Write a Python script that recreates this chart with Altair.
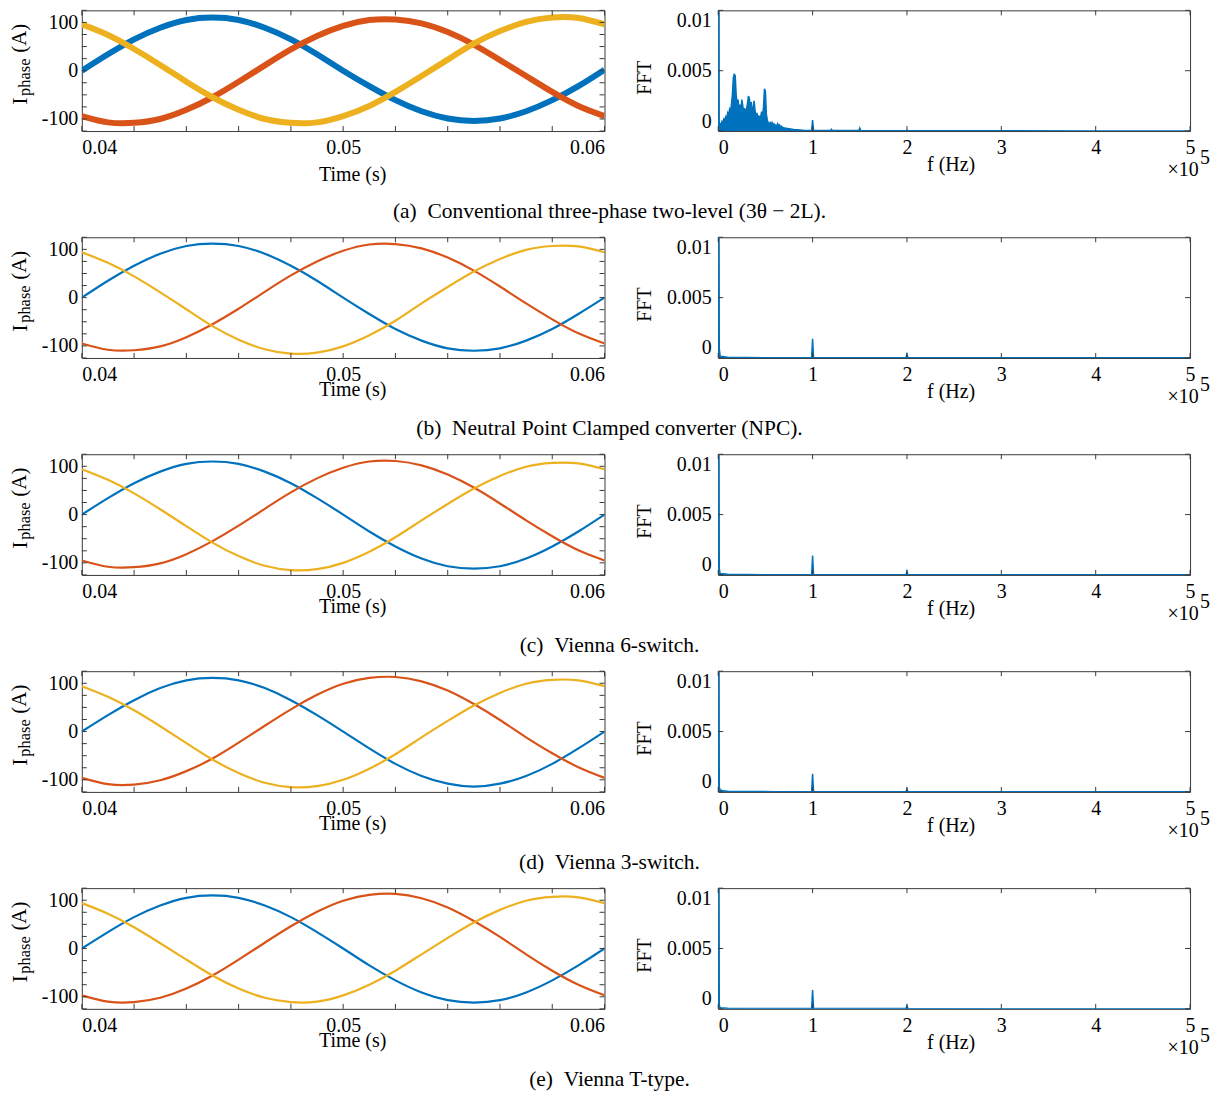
import altair as alt
import pandas as pd

FONT = "Liberation Serif"
BLUE, ORANGE, YELLOW = "#0072BD", "#D95319", "#EDB120"
FRAME = "#3a3a3a"

# ---------------- data ----------------
time_s = [0.040, 0.041, 0.042, 0.043, 0.044, 0.045, 0.046, 0.047, 0.048, 0.049, 0.050,
          0.051, 0.052, 0.053, 0.054, 0.055, 0.056, 0.057, 0.058, 0.059, 0.060]

# phase currents (A), one list per phase per converter
ia_a = [0, 34, 65, 89, 105, 110, 105, 89, 65, 34, 0, -32, -61, -84, -99, -104, -99, -84, -61, -32, 2]
ib_a = [-94, -107, -108, -100, -81, -55, -23, 11, 44, 72, 93, 105, 106, 98, 80, 54, 22, -11, -44, -73, -94]
ic_a = [96, 74, 45, 12, -23, -55, -81, -100, -108, -107, -94, -73, -44, -11, 23, 56, 82, 101, 110, 109, 96]

ia_b = [0, 35, 66, 91, 107, 112, 107, 91, 66, 35, 0, -34, -65, -89, -105, -110, -105, -89, -65, -34, 0]
ib_b = [-95, -108, -109, -101, -82, -55, -23, 12, 46, 75, 97, 110, 111, 102, 83, 56, 23, -12, -45, -74, -95]
ic_b = [94, 72, 44, 11, -24, -59, -87, -107, -116, -114, -101, -78, -48, -12, 22, 54, 80, 99, 107, 106, 94]

ia_c = [0, 34, 65, 89, 105, 110, 105, 89, 65, 34, 0, -35, -66, -91, -107, -112, -107, -91, -66, -35, 0]
ib_c = [-95, -108, -109, -101, -82, -55, -23, 12, 46, 75, 97, 110, 111, 102, 83, 56, 23, -12, -45, -74, -95]
ic_c = [94, 72, 44, 11, -24, -58, -86, -106, -115, -113, -100, -77, -47, -12, 22, 54, 80, 99, 107, 106, 94]

ia_d = [0, 34, 65, 90, 106, 111, 106, 90, 65, 34, 0, -35, -67, -92, -108, -114, -108, -92, -67, -35, 0]
ib_d = [-96, -109, -110, -101, -82, -56, -23, 12, 46, 76, 99, 111, 113, 104, 85, 57, 24, -12, -45, -74, -96]
ic_d = [94, 72, 44, 11, -24, -58, -86, -106, -115, -113, -100, -77, -47, -12, 22, 54, 80, 99, 107, 106, 94]

ia_e = [0, 34, 65, 89, 105, 110, 105, 89, 65, 34, 0, -35, -66, -91, -107, -112, -107, -91, -66, -35, 0]
ib_e = [-97, -110, -111, -102, -83, -56, -23, 12, 46, 76, 99, 111, 113, 104, 85, 57, 24, -12, -46, -75, -97]
ic_e = [94, 72, 44, 11, -23, -56, -83, -102, -111, -110, -97, -75, -46, -12, 22, 54, 80, 99, 107, 106, 94]

# FFT spectra: frequency (Hz) and magnitude in units of 1e-4
fft_freq_a = [0, 800, 1000, 2000, 3000, 4000, 5000, 6000, 7000, 8000, 9000, 10000,
              11000, 12000, 13000, 14000, 15000, 16000, 17000, 18000, 19000, 20000,
              21000, 22000, 23000, 24000, 25000, 26000, 27000, 28000, 29000, 30000,
              31000, 32000, 33000, 34000, 35000, 36000, 37000, 38000, 39000, 40000,
              41000, 42000, 43000, 44000, 45000, 46000, 47000, 48000, 49000, 50000,
              51000, 52000, 53000, 54000, 55000, 56000, 57000, 58000, 59000, 60000,
              61000, 62000, 63000, 64000, 65000, 66000, 67000, 68000, 69000, 70000,
              75000, 80000, 90000, 99000, 100000, 101000, 110000, 119000, 120000, 121000,
              140000, 149000, 150000, 151000, 170000, 199000, 200000, 201000, 300000, 400000, 500000]
fft_amp_a = [3, 100, 4, 6, 5, 8, 7, 10, 9, 12, 11, 15,
             13, 18, 16, 22, 30, 44, 47, 46, 30, 23,
             26, 18, 22, 16, 26, 21, 15, 19, 14, 18,
             23, 29, 27, 20, 24, 15, 19, 25, 17, 12,
             15, 10, 13, 9, 12, 16, 12, 20, 35, 33,
             14, 9, 7, 6, 7, 5, 7, 5, 6, 4,
             5, 4, 6, 4, 5, 3, 4, 3, 3, 2.5,
             2, 1.2, 0.7, 0.5, 9, 0.5, 0.5, 0.4, 1.5, 0.4,
             0.4, 0.4, 2.5, 0.4, 0.3, 0.2, 0.8, 0.2, 0.2, 0.1, 0.1]

fft_freq_low = [0, 800, 1100, 2000, 5000, 10000, 30000, 60000, 99000, 100000, 101000,
                150000, 199000, 200000, 201000, 300000, 400000, 500000]
fft_amp_b = [8, 100, 8, 1.5, 1.2, 0.6, 0.3, 0.2, 0.2, 16, 0.2, 0.2, 0.2, 3, 0.2, 0.15, 0.1, 0.1]
fft_amp_c = [5, 100, 5, 1.2, 1.0, 0.5, 0.3, 0.2, 0.2, 16, 0.2, 0.2, 0.2, 3, 0.2, 0.15, 0.1, 0.1]
fft_amp_d = [4, 100, 4, 1.5, 1.0, 0.5, 0.3, 0.2, 0.2, 15, 0.2, 0.2, 0.2, 2.5, 0.2, 0.15, 0.1, 0.1]
fft_amp_e = [3, 100, 3, 1.0, 0.8, 0.5, 0.3, 0.2, 0.2, 15.5, 0.2, 0.2, 0.2, 2.5, 0.2, 0.15, 0.1, 0.1]

# ticks and labels
time_ticks = [0.040, 0.042, 0.044, 0.046, 0.048, 0.050, 0.052, 0.054, 0.056, 0.058, 0.060]
time_labels = [0.04, 0.05, 0.06]
current_ticks = [-125, -100, -75, -50, -25, 0, 25, 50, 75, 100, 125]
current_labels = [-100, 0, 100]
freq_labels = [0, 100000, 200000, 300000, 400000, 500000]
fft_labels = [0, 0.005, 0.01]

captions = [
    "(a)\u2002Conventional three-phase two-level (3θ − 2L).",
    "(b)\u2002Neutral Point Clamped converter (NPC).",
    "(c)\u2002Vienna 6-switch.",
    "(d)\u2002Vienna 3-switch.",
    "(e)\u2002Vienna T-type.",
]

LW, RW, H = 524, 473, 121


def label_text(s, x, y, size, angle=270):
    return alt.Chart(pd.DataFrame({"s": [s]})).mark_text(
        angle=angle, font=FONT, fontSize=size, align="center", baseline="middle", color="black"
    ).encode(x=alt.value(x), y=alt.value(y), text="s:N")


def current_chart(ia, ib, ic, sw, title_y):
    n = len(time_s)
    df = pd.DataFrame({
        "t": time_s * 3,
        "i": ia + ib + ic,
        "phase": ["a"] * n + ["b"] * n + ["c"] * n,
    })
    xs = alt.Scale(domain=[0.04, 0.06], nice=False, zero=False)
    ys = alt.Scale(domain=[-125, 125], nice=False)
    xa = alt.Axis(values=time_labels, format=".2f", labelFlush=True, title="Time (s)",
                  titleY=title_y, titleX=271, titleBaseline="middle", labelPadding=7)
    ya = alt.Axis(values=current_labels, labelExpr="'' + datum.value", title=None, labelPadding=4)

    lines = alt.Chart(df).mark_line(strokeWidth=sw, interpolate="natural", clip=True).encode(
        x=alt.X("t:Q", scale=xs, axis=xa),
        y=alt.Y("i:Q", scale=ys, axis=ya),
        color=alt.Color("phase:N", scale=alt.Scale(domain=["a", "b", "c"], range=[BLUE, ORANGE, YELLOW]),
                        legend=None),
    )
    yt = alt.Chart(pd.DataFrame({"i": current_ticks})).mark_rule(color=FRAME, strokeWidth=1)
    xt = alt.Chart(pd.DataFrame({"t": time_ticks})).mark_rule(color=FRAME, strokeWidth=1)
    layers = [
        lines,
        yt.encode(y=alt.Y("i:Q", scale=ys, axis=ya), x=alt.value(0), x2=alt.value(5)),
        yt.encode(y=alt.Y("i:Q", scale=ys, axis=ya), x=alt.value(LW), x2=alt.value(LW - 5)),
        xt.encode(x=alt.X("t:Q", scale=xs, axis=xa), y=alt.value(0), y2=alt.value(5)),
        xt.encode(x=alt.X("t:Q", scale=xs, axis=xa), y=alt.value(H), y2=alt.value(H - 5)),
        label_text("I", -62, 91, 22),
        label_text("phase", -57, 67, 16.5),
        label_text("(A)", -62, 28, 21),
    ]
    return alt.layer(*layers).properties(width=LW, height=H)


def fft_chart(freq, amp_e4):
    df = pd.DataFrame({"f": freq, "a": [v * 1e-4 for v in amp_e4]})
    xs = alt.Scale(domain=[0, 500000], nice=False, zero=False)
    ys = alt.Scale(domain=[0, 0.01], nice=False)
    xa = alt.Axis(values=freq_labels, labelExpr="'' + datum.value / 100000",
                  labelAlign={"condition": {"test": "datum.value == 0", "value": "left"}, "value": "center"},
                  title="f (Hz)", titleY=34, titleX=233, titleBaseline="middle", labelPadding=7)
    ya = alt.Axis(values=fft_labels, format=".3~f", labelFlush=True, title="FFT",
                  titleAngle=270, titleX=-74, titleY=67, titleAlign="center",
                  titleBaseline="middle", labelPadding=7)
    enc = dict(x=alt.X("f:Q", scale=xs, axis=xa), y=alt.Y("a:Q", scale=ys, axis=ya))
    area = alt.Chart(df).mark_area(color=BLUE, clip=True, interpolate="linear").encode(**enc)
    line = alt.Chart(df).mark_line(color=BLUE, strokeWidth=1.5, clip=True).encode(**enc)
    yt = alt.Chart(pd.DataFrame({"a": fft_labels})).mark_rule(color=FRAME, strokeWidth=1)
    xt = alt.Chart(pd.DataFrame({"f": freq_labels})).mark_rule(color=FRAME, strokeWidth=1)
    layers = [
        area, line,
        yt.encode(y=alt.Y("a:Q", scale=ys, axis=ya), x=alt.value(0), x2=alt.value(5)),
        yt.encode(y=alt.Y("a:Q", scale=ys, axis=ya), x=alt.value(RW), x2=alt.value(RW - 5)),
        xt.encode(x=alt.X("f:Q", scale=xs, axis=xa), y=alt.value(0), y2=alt.value(5)),
        xt.encode(x=alt.X("f:Q", scale=xs, axis=xa), y=alt.value(H), y2=alt.value(H - 5)),
        label_text("×10", 466, 160, 20, angle=0),
        label_text("5", 488, 148, 20, angle=0),
    ]
    return alt.layer(*layers).properties(width=RW, height=H)


currents = [
    (ia_a, ib_a, ic_a, 6, 44),
    (ia_b, ib_b, ic_b, 2.2, 32),
    (ia_c, ib_c, ic_c, 2.2, 32),
    (ia_d, ib_d, ic_d, 2.2, 32),
    (ia_e, ib_e, ic_e, 2.2, 32),
]
spectra = [
    (fft_freq_a, fft_amp_a),
    (fft_freq_low, fft_amp_b),
    (fft_freq_low, fft_amp_c),
    (fft_freq_low, fft_amp_d),
    (fft_freq_low, fft_amp_e),
]
offsets = [16, 11, 11, 11, 11]

rows = []
for k in range(5):
    left = current_chart(*currents[k])
    right = fft_chart(*spectra[k])
    row = alt.hconcat(left, right, spacing=28).properties(
        title=alt.TitleParams(captions[k], orient="bottom", anchor="middle", offset=offsets[k],
                              fontSize=21.5, font=FONT, fontWeight="normal", color="black")
    )
    rows.append(row)

chart = alt.vconcat(*rows, spacing=13.5).properties(
    padding={"left": 0, "top": 0, "right": 0, "bottom": 0}
).configure(font=FONT).configure_axis(
    labelFont=FONT, titleFont=FONT, labelFontSize=20, titleFontSize=20,
    labelColor="black", titleColor="black", titleFontWeight="normal",
    ticks=False, domain=False, grid=False,
).configure_view(stroke=FRAME, strokeWidth=1)

chart.save("out.html", embed_options={"renderer": "svg", "actions": False})
